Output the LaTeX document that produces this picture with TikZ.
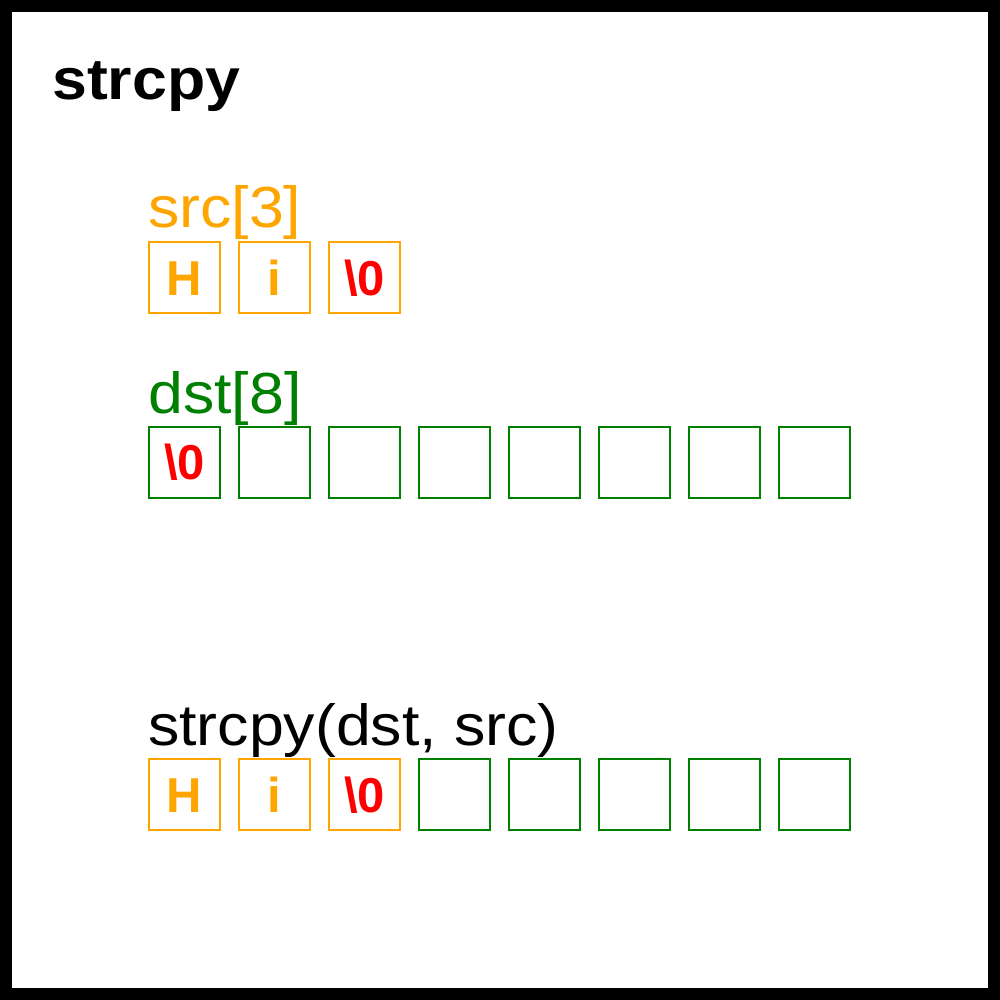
\documentclass[tikz,border=0pt]{standalone}
\usepackage{fontspec}
\setmainfont{Liberation Sans}
\newfontfamily\widesans[FakeStretch=1.08]{Liberation Sans}
\definecolor{orng}{HTML}{FFA500}
\definecolor{grn}{HTML}{008000}
\definecolor{rd}{HTML}{FF0000}
\tikzset{
  cell/.style={draw, line width=2pt, minimum size=71pt, inner sep=0pt, text height=35pt, text depth=0pt,
    font=\fontsize{49}{49}\selectfont\bfseries},
  srccell/.style={cell, draw=orng, text=orng},
  dstcell/.style={cell, draw=grn, text=grn},
  nulltxt/.style={text=rd},
  label/.style={anchor=base west, inner sep=0pt, font=\widesans\fontsize{58}{58}\selectfont},
}
\begin{document}
\begin{tikzpicture}[x=1pt,y=-1pt]
\useasboundingbox (0,0) rectangle (1000,1000);
\draw[line width=12pt] (6,6) rectangle (994,994);
\node[anchor=base west, inner sep=0pt, font=\widesans\fontsize{58}{58}\selectfont\bfseries] (title) at (52,100) {strcpy};
% src
\node[label, text=orng] (srclbl) at (148,228) {src[3]};
\node[srccell] (s0) at (184.5,277.5) {H};
\node[srccell] (s1) at (274.5,277.5) {i};
\node[srccell, nulltxt] (s2) at (364.5,277.5) {\textbackslash0};
% dst
\node[label, text=grn] (dstlbl) at (148,413) {dst[8]};
\node[dstcell, nulltxt] (d0) at (184.5,462) {\textbackslash0};
\foreach \i in {1,...,7} {
  \node[dstcell] (d\i) at (184.5+90*\i,462) {};
}
% result
\node[label] (reslbl) at (148,745) {strcpy(dst, src)};
\node[srccell] (r0) at (184.5,794.5) {H};
\node[srccell] (r1) at (274.5,794.5) {i};
\node[srccell, nulltxt] (r2) at (364.5,794.5) {\textbackslash0};
\foreach \i in {3,...,7} {
  \node[dstcell] (r\i) at (184.5+90*\i,794.5) {};
}
\end{tikzpicture}
\end{document}
